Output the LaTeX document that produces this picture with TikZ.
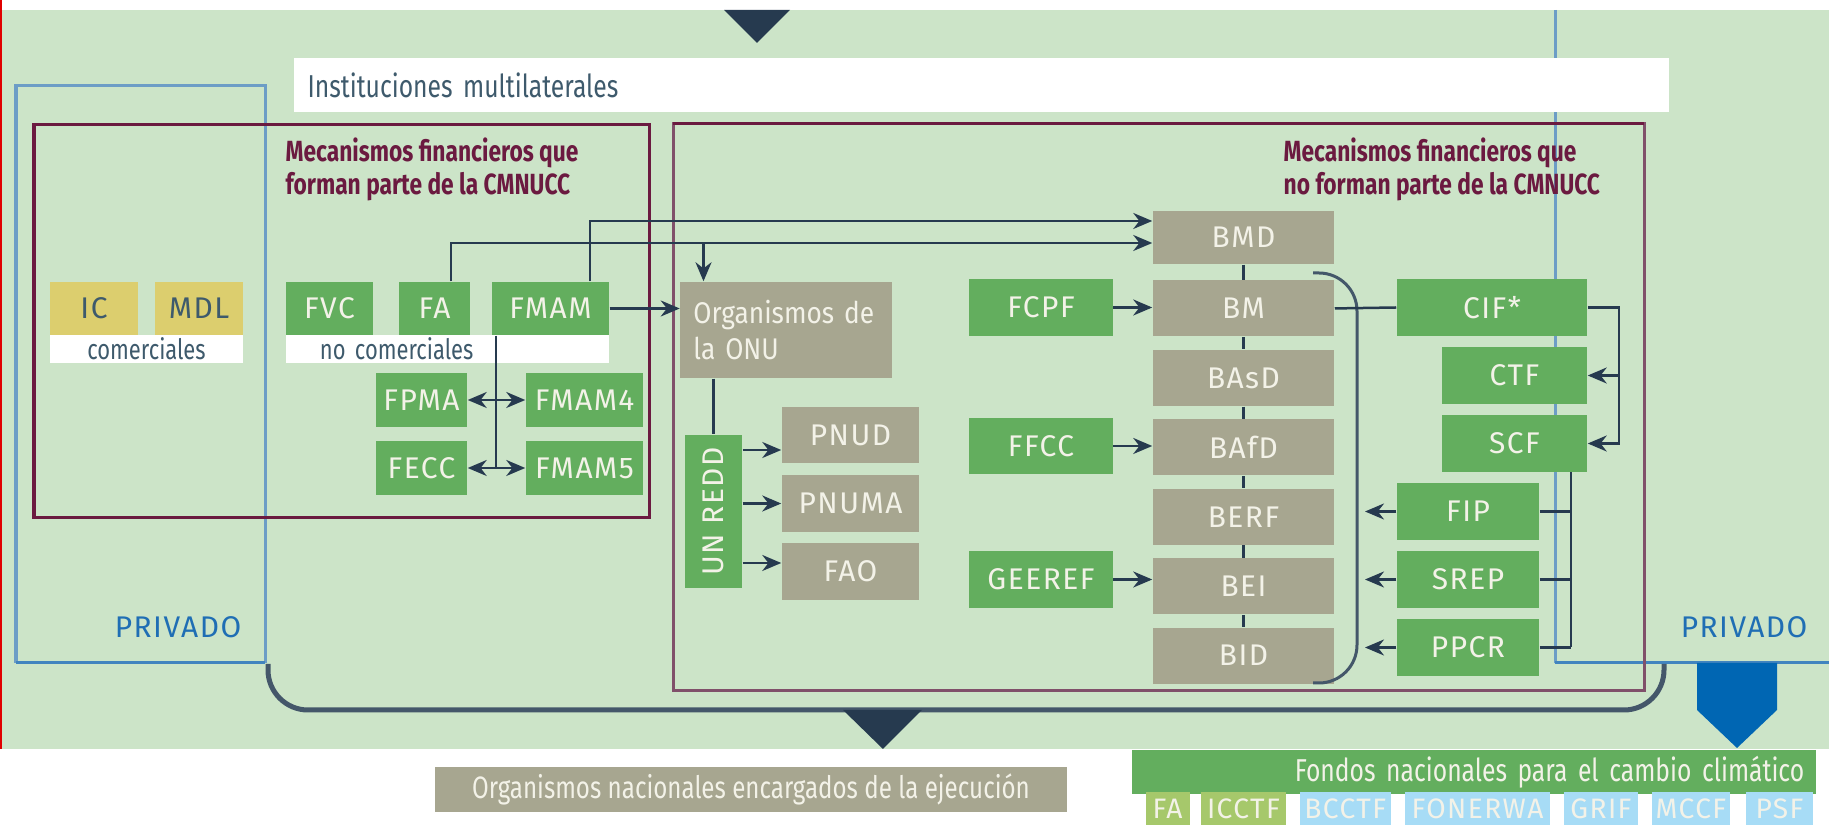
\documentclass[tikz,border=0pt]{standalone}
\usepackage{fontspec}
\usepackage{tikz}
\usetikzlibrary{calc,positioning,arrows.meta}
\setmainfont{Fira Sans}
\newfontfamily\boxfont[LetterSpace=5.0]{Fira Sans}
\newfontfamily\midfont[FakeStretch=0.88]{Fira Sans}
\newfontfamily\condfont[FakeStretch=0.78]{Fira Sans}
\definecolor{bggreen}{HTML}{CCE4C8}
\definecolor{fundgreen}{HTML}{63AE5E}
\definecolor{bankgray}{HTML}{A7A690}
\definecolor{mdlyellow}{HTML}{DCCE6E}
\definecolor{navy}{HTML}{263A4F}
\definecolor{maroon}{HTML}{6B1A40}
\definecolor{maroonlight}{HTML}{80506A}
\definecolor{lineblue}{HTML}{6C9DC6}
\definecolor{privblue}{HTML}{1F6EB4}
\definecolor{arrowblue}{HTML}{0066B3}
\definecolor{slate}{HTML}{3E5A6C}
\definecolor{paper}{HTML}{F3F2E8}
\definecolor{chipblue}{HTML}{A7DCF6}
\definecolor{chipgreen}{HTML}{A6C86B}
\definecolor{curve}{HTML}{44576A}
\definecolor{edgered}{HTML}{E00000}
\tikzset{
	>={Stealth[length=1.9mm,width=1.6mm]},
	box/.style={inner sep=0pt, text=paper, font=\boxfont\fontsize{8.5}{10}\selectfont},
	fund/.style={box, fill=fundgreen},
	bank/.style={box, fill=bankgray, minimum width=1.81cm, minimum height=0.56cm},
	chip/.style={box, minimum height=0.33cm, font=\boxfont\fontsize{8}{9}\selectfont},
	link/.style={draw=navy, line width=0.025cm},
}

\begin{document}
\begin{tikzpicture}[
            x=0.01cm,
            y=-0.01cm,
            node distance=0.12cm,
            frame/.style={line width=0.03cm},
            heading/.style={anchor=north west, align=left, inner sep=0pt, text=maroon, font=\condfont\bfseries\fontsize{8.3}{9.4}\selectfont},
            tag/.style={inner sep=0pt, text=slate, font=\condfont\fontsize{8}{9}\selectfont},
            privado/.style={anchor=base east, inner sep=0pt, text=privblue, font=\boxfont\fontsize{8.5}{10}\selectfont}
        ]
        \useasboundingbox (0,0) rectangle (1829,825);
        \fill[bggreen] (0,10) rectangle (1829,749);
        \fill[edgered] (0,0) rectangle (2.5,749);
        \draw[frame, draw=lineblue] (16,663) -- (16,86) -- (265,86) -- (265,663);
        \draw[frame, draw=privblue!85] (16,663) -- (265,663);
        \draw[frame, draw=lineblue] (1555,10) -- (1555,663);
        \draw[frame, draw=privblue!85] (1555,663) -- (1829,663);
        \draw[frame, draw=maroon] (34,125) rectangle (649,518);
        \draw[frame, draw=maroonlight] (673,124) rectangle (1644,691);
        \draw[frame, draw=maroon] (673,124) -- (1644,124);
        \draw[line width=0.05cm, draw=curve, rounded corners=0.4cm] (268,664) -- (268,710) -- (1664,710) -- (1664,664);
        \fill[navy] (724,10) -- (790,10) -- (757,43) -- cycle;
        \fill[navy] (843,710) -- (922,710) -- (883,749) -- cycle;
        \fill[arrowblue] (1697,663) -- (1777,663) -- (1777,710) -- (1737,748) -- (1697,710) -- cycle;

        \node[fill=white, minimum height=0.54cm, inner xsep=0.134cm, text width=13.476cm, align=left, text=slate, font=\condfont\fontsize{9}{11}\selectfont] (inst) at (981.8,85) {Instituciones multilaterales};
        \node[heading] (mecin) at (285,137.5) {Mecanismos financieros que\\forman parte de la CMNUCC};
        \node[heading] (mecout) at (1283,137.5) {Mecanismos financieros que\\no forman parte de la CMNUCC};
        \node[privado] (privl) at (242,638) {PRIVADO};
        \node[privado] (privr) at (1808,638) {PRIVADO};

        \node[box, fill=mdlyellow, text=slate, minimum width=0.88cm, minimum height=0.53cm] (IC) at (94,308.5) {IC};
        \node[box, fill=mdlyellow, text=slate, minimum width=0.88cm, minimum height=0.53cm] (MDL) at (199,308.5) {MDL};
        \node[tag, fill=white, minimum width=1.93cm, minimum height=0.28cm] (com) at (146.5,349) {comerciales};
        \node[tag, fill=white, minimum height=0.28cm, inner xsep=0.34cm, text width=2.55cm, align=left] (nocom) at (447.5,349) {no comerciales};
        \node[fund, minimum width=0.87cm, minimum height=0.53cm] (FVC) at (329.5,308.5) {FVC};
        \node[fund, minimum width=0.71cm, minimum height=0.53cm] (FA) at (434.5,308.5) {FA};
        \node[fund, minimum width=1.17cm, minimum height=0.53cm] (FMAM) at (550.5,308.5) {FMAM};
        \node[fund, minimum width=0.91cm, minimum height=0.54cm] (FPMA) at (421.5,400) {FPMA};
        \node[fund, minimum width=0.91cm, minimum height=0.54cm] (FECC) at (421.5,468) {FECC};
        \node[fund, minimum width=1.17cm, minimum height=0.54cm] (FMAM4) at (584.5,400) {FMAM4};
        \node[fund, minimum width=1.17cm, minimum height=0.54cm] (FMAM5) at (584.5,468) {FMAM5};

        \node[box, fill=bankgray, minimum height=0.96cm, inner xsep=0.13cm, text width=1.85cm, align=left, font=\midfont\fontsize{8.5}{10}\selectfont] (ONU) at (786,330) {Organismos de\\la ONU};
        \node[fund, rotate=90, minimum width=1.53cm, minimum height=0.57cm] (UNREDD) at (713.5,511.5) {UN REDD};
        \node[bank, minimum width=1.37cm] (PNUD) at (850.5,435) {PNUD};
        \node[bank, minimum width=1.37cm] (PNUMA) at (850.5,503.5) {PNUMA};
        \node[bank, minimum width=1.37cm] (FAO) at (850.5,571.5) {FAO};

        \node[fund, minimum width=1.43cm, minimum height=0.56cm] (FCPF) at (1041,307.5) {FCPF};
        \node[fund, minimum width=1.43cm, minimum height=0.56cm] (FFCC) at (1041,446) {FFCC};
        \node[fund, minimum width=1.43cm, minimum height=0.56cm] (GEEREF) at (1041,579.5) {GEEREF};

        \node[bank, minimum height=0.53cm] (BMD) at (1243.5,237.5) {BMD};
        \node[bank, below=0.15cm of BMD] (BM) {BM};
        \node[bank, below=of BM] (BAsD) {BAsD};
        \node[bank, below=of BAsD] (BAfD) {BAfD};
        \node[bank, below=of BAfD] (BERF) {BERF};
        \node[bank, below=of BERF] (BEI) {BEI};
        \node[bank, below=of BEI] (BID) {BID};

        \node[fund, minimum width=1.90cm, minimum height=0.56cm] (CIF) at (1492,307.5) {CIF*};
        \node[fund, minimum width=1.45cm, minimum height=0.56cm] (CTF) at (1514.5,375.5) {CTF};
        \node[fund, minimum width=1.45cm, minimum height=0.56cm] (SCF) at (1514.5,443.5) {SCF};
        \node[fund, minimum width=1.42cm, minimum height=0.56cm] (FIP) at (1468,511.5) {FIP};
        \node[fund, minimum width=1.42cm, minimum height=0.56cm] (SREP) at (1468,579.5) {SREP};
        \node[fund, minimum width=1.42cm, minimum height=0.56cm] (PPCR) at (1468,647.5) {PPCR};

        \node[box, fill=bankgray, minimum width=6.32cm, minimum height=0.45cm, font=\condfont\fontsize{8.8}{10}\selectfont] (nac) at (751,789.5) {Organismos nacionales encargados de la ejecución};
        \node[fill=fundgreen, text=paper, minimum height=0.44cm, inner ysep=0pt, inner xsep=0.12cm, text width=6.6cm, align=right, font=\condfont\fontsize{9}{10}\selectfont] (fondos) at (1474,772) {Fondos nacionales para el cambio climático};
        \node[chip, fill=chipgreen, minimum width=0.44cm] (cFA) at (1167.6,808.5) {FA};
        \node[chip, fill=chipgreen, minimum width=0.85cm] (cICCTF) at (1243.5,808.5) {ICCTF};
        \node[chip, fill=chipblue, minimum width=0.906cm] (cBCCTF) at (1345.3,808.5) {BCCTF};
        \node[chip, fill=chipblue, minimum width=1.45cm] (cFONERWA) at (1477.5,808.5) {FONERWA};
        \node[chip, fill=chipblue, minimum width=0.74cm] (cGRIF) at (1601,808.5) {GRIF};
        \node[chip, fill=chipblue, minimum width=0.78cm] (cMCCF) at (1691,808.5) {MCCF};
        \node[chip, fill=chipblue, minimum width=0.67cm] (cPSF) at (1779.5,808.5) {PSF};

        \coordinate (fmamdown) at ([xshift=-0.545cm]FMAM.south);
        \coordinate (onudown) at (703.5,243);
        \coordinate (rj) at (1619,307.5);
        \coordinate (bus) at ([xshift=0.565cm]SCF.south);
        \coordinate (brk) at (1365,0);
        \coordinate (p1) at ([yshift=-0.15cm]PNUD.west);
        \coordinate (p2) at (PNUMA.west);
        \coordinate (p3) at ([yshift=0.085cm]FAO.west);

        \draw[link, ->] ([xshift=0.395cm]FMAM.north) |- ([yshift=0.165cm]BMD.west);
        \draw[link, ->] ([xshift=0.165cm]FA.north) |- ([yshift=-0.055cm]BMD.west);
        \draw[link, ->] (onudown) -- (onudown |- ONU.north);
        \draw[link, ->] (FMAM.east) -- (FMAM.east -| ONU.west);
        \draw[link] (fmamdown) -- (fmamdown |- FECC.east);
        \draw[link, <->] (FPMA.east) -- (FMAM4.west);
        \draw[link, <->] (FECC.east) -- (FMAM5.west);
        \draw[link] (ONU.south -| UNREDD.east) -- (UNREDD.east);
        \draw[link, ->] (p1 -| UNREDD.south) -- (p1);
        \draw[link, ->] (p2 -| UNREDD.south) -- (p2);
        \draw[link, ->] (p3 -| UNREDD.south) -- (p3);

        \draw[link, ->] (FCPF.east) -- (FCPF.east -| BM.west);
        \draw[link, ->] (FFCC.east) -- (FFCC.east -| BAfD.west);
        \draw[link, ->] (GEEREF.east) -- (GEEREF.east -| BEI.west);
        \draw[link] (BMD) -- (BM);
        \draw[link] (BM) -- (BAsD);
        \draw[link] (BAsD) -- (BAfD);
        \draw[link] (BAfD) -- (BERF);
        \draw[link] (BERF) -- (BEI);
        \draw[link] (BEI) -- (BID);
        \draw[line width=0.03cm, draw=curve, rounded corners=0.38cm] (1313,273) -- (1357,273) -- (1357,683) -- (1313,683);
        \draw[link] (BM.east) -- (CIF.west);

        \draw[link, ->] (CIF.east) -| (SCF.east -| rj) -- (SCF.east);
        \draw[link, ->] (CTF.east -| rj) -- (CTF.east);
        \draw[link] (bus) -- (bus |- PPCR.east);
        \draw[link] (FIP.east) -- (bus |- FIP.east);
        \draw[link] (SREP.east) -- (bus |- SREP.east);
        \draw[link] (PPCR.east) -- (bus |- PPCR.east);
        \draw[link, ->] (FIP.west) -- (FIP.west -| brk);
        \draw[link, ->] (SREP.west) -- (SREP.west -| brk);
        \draw[link, ->] (PPCR.west) -- (PPCR.west -| brk);
    \end{tikzpicture}
\end{document}
